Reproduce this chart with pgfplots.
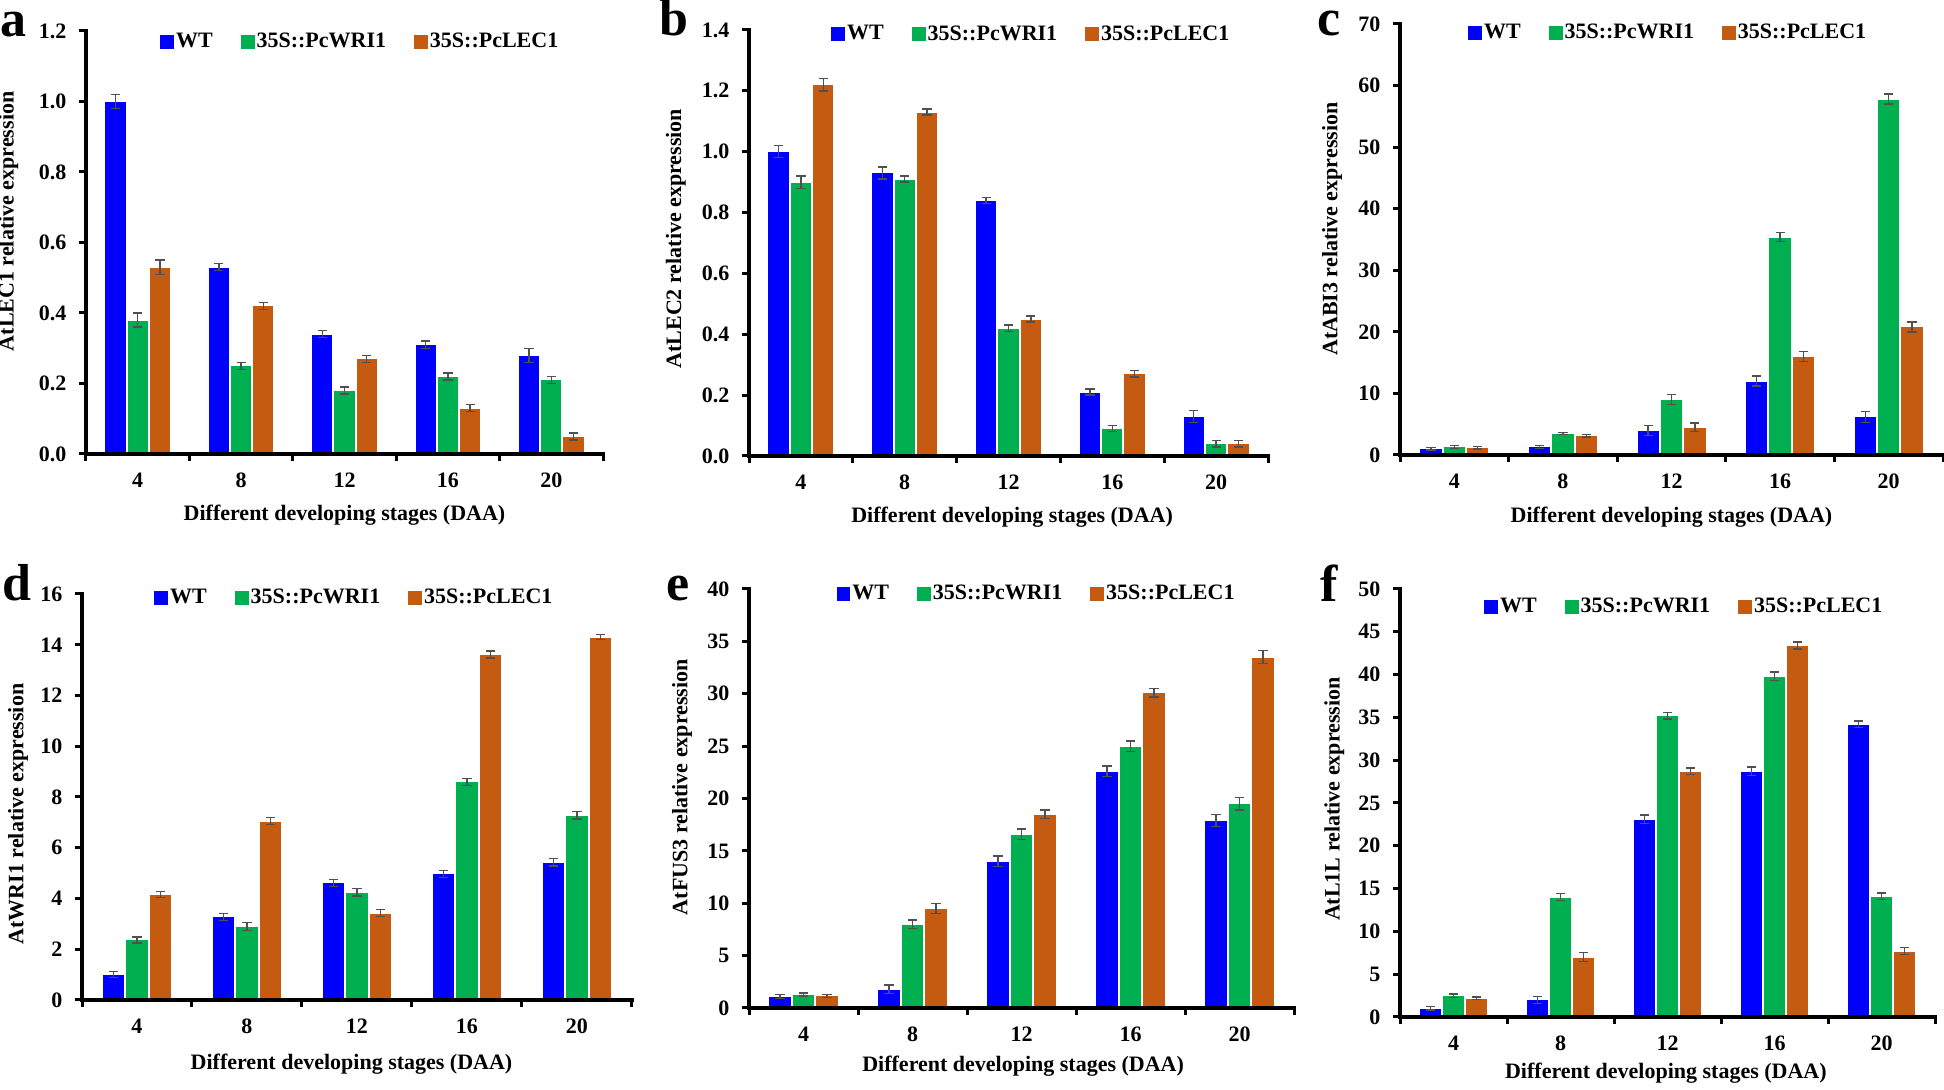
\documentclass[border=0pt]{standalone}
\usepackage{fontspec}
\setmainfont{Liberation Serif}
\usepackage{pgfplots}
\usepackage{pgfplotstable}
\pgfplotsset{compat=1.18}

\definecolor{cblue}{RGB}{0,0,255}
\definecolor{cgreen}{RGB}{0,176,80}
\definecolor{corange}{RGB}{197,90,17}
\definecolor{errgray}{RGB}{80,80,80}

% x: category index; WT, WRI1, LEC1 means and errors
\pgfplotstableread{
x wt wte wri wrie lec lece
0 1.00 0.02 0.38 0.02 0.53 0.02
1 0.53 0.01 0.25 0.01 0.42 0.01
2 0.34 0.01 0.18 0.01 0.27 0.01
3 0.31 0.01 0.22 0.01 0.13 0.01
4 0.28 0.02 0.21 0.01 0.05 0.01
}\tabA
\pgfplotstableread{
x wt wte wri wrie lec lece
0 1.00 0.02 0.90 0.02 1.22 0.02
1 0.93 0.02 0.91 0.01 1.13 0.01
2 0.84 0.01 0.42 0.01 0.45 0.01
3 0.21 0.01 0.09 0.01 0.27 0.01
4 0.13 0.02 0.04 0.01 0.04 0.01
}\tabB
\pgfplotstableread{
x wt wte wri wrie lec lece
0 1.0 0.2 1.3 0.2 1.2 0.2
1 1.3 0.2 3.5 0.2 3.1 0.2
2 4.0 0.8 9.0 0.8 4.5 0.7
3 12.0 0.8 35.4 0.7 16.0 0.8
4 6.2 0.9 57.8 0.8 20.8 0.8
}\tabC
\pgfplotstableread{
x wt wte wri wrie lec lece
0 1.00 0.12 2.37 0.12 4.15 0.12
1 3.28 0.14 2.90 0.16 7.05 0.14
2 4.62 0.14 4.25 0.15 3.42 0.14
3 4.97 0.14 8.60 0.14 13.62 0.14
4 5.43 0.15 7.28 0.15 14.30 0.10
}\tabD
\pgfplotstableread{
x wt wte wri wrie lec lece
0 1.1 0.2 1.3 0.15 1.15 0.15
1 1.8 0.4 8.0 0.4 9.5 0.5
2 14.0 0.5 16.6 0.5 18.5 0.4
3 22.6 0.5 25.0 0.5 30.1 0.4
4 17.9 0.6 19.5 0.6 33.5 0.6
}\tabE
\pgfplotstableread{
x wt wte wri wrie lec lece
0 1.0 0.2 2.5 0.2 2.2 0.15
1 2.0 0.4 14.0 0.4 7.0 0.5
2 23.1 0.5 35.2 0.4 28.7 0.4
3 28.7 0.5 39.8 0.5 43.4 0.4
4 34.2 0.4 14.1 0.4 7.7 0.4
}\tabF

\pgfplotsset{
  panel/.style={
    scale only axis, ybar, clip=false,
    xmin=-0.5, xmax=4.5, ymin=0,
    axis x line*=bottom, axis y line*=left,
    axis line style={line width=1.65pt, black},
    xtick={0,1,2,3,4}, xticklabels={4,8,12,16,20},
    tick align=outside,
    major tick length=3.3pt,
    tick style={black, line width=1.5pt},
    major x tick style={draw=none},
    /pgf/number format/assume math mode=true,
    ticklabel style={font=\fontsize{11}{12}\selectfont\bfseries},
    xticklabel style={yshift=-2.5pt},
    yticklabel style={xshift=-3pt},
    label style={font=\fontsize{11}{12}\selectfont\bfseries},
    legend style={draw=none, fill=none, anchor=west, inner sep=0pt,
      legend columns=-1, font=\fontsize{11}{12}\selectfont\bfseries,
      nodes={inner xsep=1pt, inner ysep=0pt},
      /tikz/every even column/.append style={column sep=13pt}},
    error bars/y dir=both, error bars/y explicit,
    error bars/error bar style={color=errgray, line width=0.7pt},
    error bars/error mark options={rotate=90, mark size=2.3pt, line width=0.7pt, color=errgray},
  },
  bwt/.style={bar width=0.205, bar shift=-0.215, fill=cblue, draw=white, line width=0.5pt,
    legend image code/.code={\fill[cblue] (0pt,-3.2pt) rectangle (6.4pt,3.2pt);}},
  bwri/.style={bar width=0.205, bar shift=0, fill=cgreen, draw=white, line width=0.5pt,
    legend image code/.code={\fill[cgreen] (0pt,-3.2pt) rectangle (6.4pt,3.2pt);}},
  blec/.style={bar width=0.205, bar shift=0.215, fill=corange, draw=white, line width=0.5pt,
    legend image code/.code={\fill[corange] (0pt,-3.2pt) rectangle (6.4pt,3.2pt);}},
}

% bars, legend, and the heavy axis frame with outward ticks (#2 = y tick values)
\newcommand{\threebars}[2]{%
  \addplot[bwt] table[x=x, y=wt, y error=wte] {#1};
  \addplot[bwri] table[x=x, y=wri, y error=wrie] {#1};
  \addplot[blec] table[x=x, y=lec, y error=lece] {#1};
  \legend{WT,35S::PcWRI1,35S::PcLEC1}
  \draw[black, line width=1.65pt, line cap=rect] (rel axis cs:0,1) -- (rel axis cs:0,0) -- (rel axis cs:1,0);
  \pgfplotsinvokeforeach{-0.5,0.5,1.5,2.5,3.5,4.5}{%
    \draw[black, line width=1.5pt] (axis cs:##1,0) -- ++(0pt,-3.6pt);}
  \pgfplotsinvokeforeach{#2}{%
    \draw[black, line width=1.5pt] (axis cs:-0.5,##1) -- ++(-3.6pt,0pt);}
}

\begin{document}
\begin{tikzpicture}
\useasboundingbox (0,0) rectangle (972pt,545pt);

% a
\begin{axis}[panel, at={(43pt,318pt)}, anchor=south west,
  width=258.5pt, height=211.5pt, ymax=1.2, ytick={0,0.2,...,1.2},
  yticklabel style={/pgf/number format/.cd, fixed, fixed zerofill, precision=1},
  ylabel={AtLEC1 relative expression},
  ylabel style={at={(axis description cs:-0.15,0.55)}, anchor=center},
  xlabel={Different developing stages (DAA)},
  xlabel style={at={(axis description cs:0.5,-0.144)}, anchor=center},
  legend style={at={(axis description cs:0.143,0.974)}}]
\threebars{\tabA}{0,0.2,0.4,0.6,0.8,1.0,1.2}
\end{axis}

% b
\begin{axis}[panel, at={(374.5pt,317pt)}, anchor=south west,
  width=259.5pt, height=213pt, ymax=1.4, ytick={0,0.2,...,1.4},
  yticklabel style={/pgf/number format/.cd, fixed, fixed zerofill, precision=1},
  ylabel={AtLEC2 relative expression},
  ylabel style={at={(axis description cs:-0.141,0.51)}, anchor=center},
  xlabel={Different developing stages (DAA)},
  xlabel style={at={(axis description cs:0.507,-0.143)}, anchor=center},
  legend style={at={(axis description cs:0.158,0.99)}}]
\threebars{\tabB}{0,0.2,0.4,0.6,0.8,1.0,1.2,1.4}
\end{axis}

% c
\begin{axis}[panel, at={(700pt,317.5pt)}, anchor=south west,
  width=271.5pt, height=215.5pt, ymax=70, ytick={0,10,...,70},
  ylabel={AtABI3 relative expression},
  ylabel style={at={(axis description cs:-0.125,0.524)}, anchor=center},
  xlabel={Different developing stages (DAA)},
  xlabel style={at={(axis description cs:0.5,-0.144)}, anchor=center},
  legend style={at={(axis description cs:0.125,0.979)}}]
\threebars{\tabC}{0,10,20,30,40,50,60,70}
\end{axis}

% d
\begin{axis}[panel, at={(41pt,45pt)}, anchor=south west,
  width=275pt, height=203pt, ymax=16, ytick={0,2,...,16},
  ylabel={AtWRI1 relative expression},
  ylabel style={at={(axis description cs:-0.116,0.458)}, anchor=center},
  xlabel={Different developing stages (DAA)},
  xlabel style={at={(axis description cs:0.49,-0.158)}, anchor=center},
  legend style={at={(axis description cs:0.131,0.99)}}]
\threebars{\tabD}{0,2,4,6,8,10,12,14,16}
\end{axis}

% e
\begin{axis}[panel, at={(374.5pt,41pt)}, anchor=south west,
  width=272.5pt, height=209.5pt, ymax=40, ytick={0,5,...,40},
  ylabel={AtFUS3 relative expression},
  ylabel style={at={(axis description cs:-0.123,0.527)}, anchor=center},
  xlabel={Different developing stages (DAA)},
  xlabel style={at={(axis description cs:0.503,-0.138)}, anchor=center},
  legend style={at={(axis description cs:0.16,0.988)}}]
\threebars{\tabE}{0,5,10,15,20,25,30,35,40}
\end{axis}

% f
\begin{axis}[panel, at={(700pt,36.5pt)}, anchor=south west,
  width=267.5pt, height=214pt, ymax=50, ytick={0,5,...,50},
  ylabel={AtL1L relative expression},
  ylabel style={at={(axis description cs:-0.123,0.509)}, anchor=center},
  xlabel={Different developing stages (DAA)},
  xlabel style={at={(axis description cs:0.497,-0.131)}, anchor=center},
  legend style={at={(axis description cs:0.157,0.958)}}]
\threebars{\tabF}{0,5,10,15,20,25,30,35,40,45,50}
\end{axis}

\begin{scope}[every node/.style={anchor=base, font=\fontsize{26}{27}\selectfont\bfseries, inner sep=0pt}]
\node at (7pt,526.5pt) {a};
\node at (337pt,527pt) {b};
\node at (664.5pt,527pt) {c};
\node at (8.5pt,244.5pt) {d};
\node at (339pt,244.5pt) {e};
\node at (664.5pt,244pt) {f};
\end{scope}
\end{tikzpicture}
\end{document}
